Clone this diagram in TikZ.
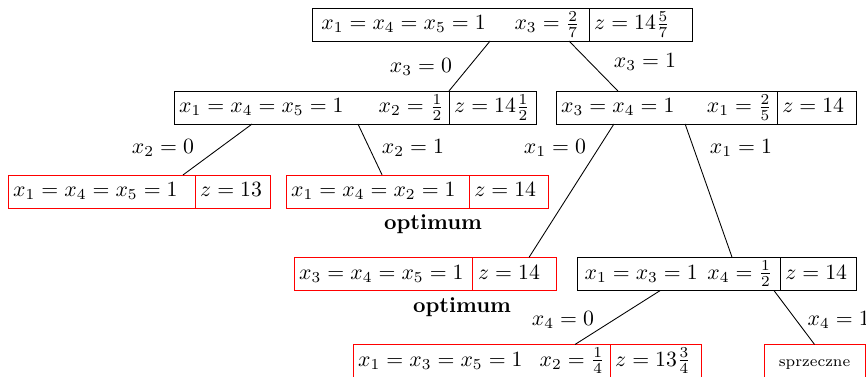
\documentclass[tikz,border=0pt]{standalone}
\usepackage{amsmath}
\usetikzlibrary{positioning,calc}

\begin{document}
\begin{tikzpicture}[x=0.46pt,y=-0.46pt,
    cell/.style={draw, anchor=west, outer sep=0pt, inner xsep=2.4pt, inner ysep=2pt,
        text height=8pt, text depth=3.2pt, minimum height=15.2pt, text width=#1},
    bcell/.style={cell=#1, draw=black},
    rcell/.style={cell=#1, draw=red}]
    \useasboundingbox (0,0) rectangle (866,377);
    \clip (0,0) rectangle (866,377);

    \node[bcell=118.8pt, inner xsep=4.3pt] (rootA) at (312,24.5) {$x_1 = x_4 = x_5 = 1$\hfill$x_3 = \frac{2}{7}$};
    \node[bcell=42.6pt, right=0pt of rootA] (rootZ) {$z = 14\frac{5}{7}$};

    \node[bcell=121.7pt] (LA) at (174,107.5) {$x_1 = x_4 = x_5 = 1$\hfill$x_2 = \frac{1}{2}$};
    \node[bcell=35.2pt, right=0pt of LA] (LZ) {$z = 14\frac{1}{2}$};
    \node[bcell=96.9pt] (RA) at (556,107.5) {$x_3 = x_4 = 1$\hfill$x_1 = \frac{2}{5}$};
    \node[bcell=31.5pt, right=0pt of RA] (RZ) {$z = 14$};

    \node[rcell=81.2pt] (LLA) at (8,191.5) {$x_1 = x_4 = x_5 = 1$};
    \node[rcell=29.7pt, right=0pt of LLA] (LLZ) {$z = 13$};
    \node[rcell=79.4pt] (LRA) at (286,191.5) {$x_1 = x_4 = x_2 = 1$};
    \node[rcell=31.5pt, right=0pt of LRA] (LRZ) {$z = 14$};
    \node (opt1) at (433,224) {\textbf{optimum}};

    \node[rcell=77.5pt] (RLA) at (294,274) {$x_3 = x_4 = x_5 = 1$};
    \node[rcell=33.4pt, right=0pt of RLA] (RLZ) {$z = 14$};
    \node (opt2) at (462,307) {\textbf{optimum}};
    \node[bcell=86.4pt, inner xsep=3.5pt] (RRA) at (577,274) {$x_1 = x_3 = 1$\hfill$x_4 = \frac{1}{2}$};
    \node[bcell=30.2pt, right=0pt of RRA] (RRZ) {$z = 14$};

    \node[rcell=113.4pt] (RRLA) at (353,361) {$x_1 = x_3 = x_5 = 1$\hfill$x_2 = \frac{1}{4}$};
    \node[rcell=37.5pt, right=0pt of RRLA] (RRLZ) {$z = 13\frac{3}{4}$};
    \node[rcell=41.7pt, align=center, font=\scriptsize] (RRR) at (764,361) {sprzeczne};

    \draw ($(rootA.south west)!.643!(rootA.south east)$) -- (LA.north east);
    \draw ($(rootA.south west)!.928!(rootA.south east)$) -- ($(RA.north west)!.28!(RA.north east)$);
    \draw ($(LA.south west)!.284!(LA.south east)$) -- ($(LLA.north west)!.936!(LLA.north east)$);
    \draw ($(LA.south west)!.669!(LA.south east)$) -- ($(LRA.north west)!.525!(LRA.north east)$);
    \draw ($(RA.south west)!.262!(RA.south east)$) -- ($(RLZ.north west)!.675!(RLZ.north east)$);
    \draw ($(RA.south west)!.584!(RA.south east)$) -- ($(RRA.north west)!.764!(RRA.north east)$);
    \draw ($(RRA.south west)!.41!(RRA.south east)$) -- ($(RRLA.north west)!.864!(RRLA.north east)$);
    \draw ($(RRA.south west)!.97!(RRA.south east)$) -- (RRR.north);

    \node (lx30) at (421,67) {$x_3 = 0$};
    \node (lx31) at (645,62) {$x_3 = 1$};
    \node (lx20) at (163,148) {$x_2 = 0$};
    \node (lx21) at (413,148) {$x_2 = 1$};
    \node (lx10) at (555,148) {$x_1 = 0$};
    \node (lx11) at (741,148) {$x_1 = 1$};
    \node (lx40) at (563,320) {$x_4 = 0$};
    \node[anchor=west] (lx41) at (800,320) {$x_4 = 1$};
\end{tikzpicture}
\end{document}
